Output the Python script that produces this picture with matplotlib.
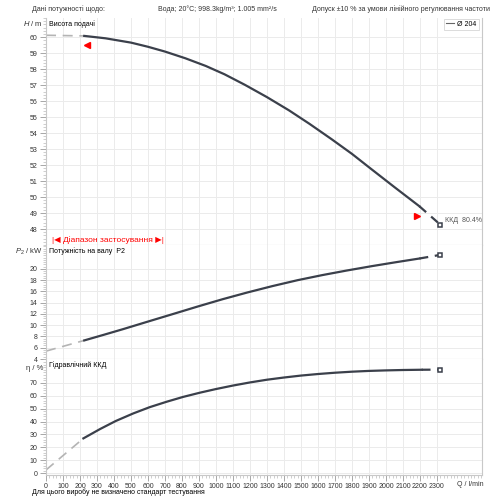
import matplotlib.pyplot as plt
from matplotlib.ticker import MultipleLocator

plt.rcParams['font.family'] = ['Liberation Sans', 'DejaVu Sans']
plt.rcParams['mathtext.fontset'] = 'custom'
plt.rcParams['mathtext.rm'] = 'Liberation Sans'
plt.rcParams['mathtext.it'] = 'Liberation Sans:italic'

# head curve, l/min -> m
q_head_lo = [0, 225]
head_lo = [60.12, 60.08]
q_head = [225, 350, 500, 600, 700, 820, 940, 1050, 1170, 1300, 1430, 1550, 1680, 1800, 1910, 2050, 2197]
head = [60.08, 59.93, 59.66, 59.40, 59.10, 58.68, 58.20, 57.68, 57.02, 56.25, 55.42, 54.58, 53.62,
        52.70, 51.78, 50.62, 49.42]
q_head_hi = [2197, 2320]
head_hi = [49.42, 48.27]

# shaft power P2, kW
q_pow_lo = [0, 225]
pow_lo = [5.4, 7.3]
q_pow = [225, 340, 453, 600, 746, 890, 1039, 1185, 1332, 1480, 1625, 1770, 1918, 2060, 2197]
power = [7.3, 8.3, 9.3, 10.65, 11.98, 13.3, 14.62, 15.82, 16.95, 18.0, 18.9, 19.72, 20.5, 21.2, 21.85]
q_pow_hi = [2197, 2320]
pow_hi = [21.85, 22.5]

# hydraulic efficiency, %
q_eff_lo = [0, 220]
eff_lo = [2.6, 27.0]
q_eff = [220, 318, 410, 514, 610, 710, 806, 906, 1000, 1100, 1200, 1300, 1400, 1500, 1600, 1700,
         1800, 1900, 2000, 2100, 2210]
eff = [27.0, 34.2, 40.4, 46.3, 51.1, 55.3, 59.0, 62.3, 65.1, 67.8, 70.2, 72.3, 74.0, 75.5, 76.7, 77.7,
       78.5, 79.1, 79.5, 79.8, 80.0]
q_eff_hi = [2210, 2320]
eff_hi = [80.0, 80.1]

range_lo = (244, 59.52)
range_hi = (2182, 48.83)

dark = '#3b404b'
light = '#b4b4b4'
grid_c = '#ebebeb'
txt_c = '#333333'
fs = 5.0

fig = plt.figure(figsize=(5, 5), dpi=100)
ax1 = fig.add_axes([0.092, 0.51, 0.872, 0.454])
ax2 = fig.add_axes([0.092, 0.282, 0.872, 0.228], sharex=ax1)
ax3 = fig.add_axes([0.092, 0.051, 0.872, 0.231], sharex=ax1)

for ax in (ax1, ax2, ax3):
    ax.set_xlim(0, 2565)
    ax.xaxis.set_major_locator(MultipleLocator(100))
    ax.xaxis.set_minor_locator(MultipleLocator(20))
    ax.grid(True, which='major', color=grid_c, lw=0.7)
    ax.set_axisbelow(True)
    for s in ax.spines.values():
        s.set_color('#c8c8c8')
        s.set_linewidth(0.8)
    ax.spines['top'].set_visible(False)
    ax.tick_params(axis='both', which='major', labelsize=fs, labelcolor=txt_c, color='#999999',
                   length=4, width=0.6, pad=2)
    ax.tick_params(axis='both', which='minor', color='#bbbbbb', length=2, width=0.5)

for ax in (ax1, ax2):
    ax.tick_params(axis='x', which='both', bottom=False, labelbottom=False)

# head
ax1.plot(q_head_lo, head_lo, color=light, lw=1.2, dashes=(6, 4))
ax1.plot(q_head, head, color=dark, lw=1.6)
ax1.plot(q_head_hi, head_hi, color=dark, lw=1.6, dashes=(4, 3))
ax1.plot(q_head_hi[-1], head_hi[-1], 's', ms=3.5, mfc='white', mec=dark, mew=1.1)
ax1.plot(*range_lo, marker='<', color='red', ms=4)
ax1.plot(*range_hi, marker='>', color='red', ms=4)
ax1.text(q_head_hi[-1] + 25, head_hi[-1] + 0.25, 'ККД  80.4%', fontsize=fs, color='#555555', va='center')
ax1.set_ylim(47.0, 61.2)
ax1.set_yticks(range(48, 61))
ax1.yaxis.set_minor_locator(MultipleLocator(0.2))
ax1.text(0.008, 0.99, 'Висота подачі', transform=ax1.transAxes, fontsize=fs, va='top')
ax1.text(0.013, 0.022, '|◀ Діапазон застосування ▶|', transform=ax1.transAxes,
         fontsize=6, color='red', va='center')
h_leg, = ax1.plot([], [], color='#666666', lw=0.8, label='Ø 204')
leg = ax1.legend(handles=[h_leg], loc='upper right', fontsize=fs, handlelength=1.2, handletextpad=0.4,
                 borderpad=0.3, frameon=True, fancybox=False, bbox_to_anchor=(1.0, 1.012))
leg.get_frame().set_edgecolor('#cccccc')
leg.get_frame().set_linewidth(0.6)

# power
ax2.plot(q_pow_lo, pow_lo, color=light, lw=1.2, dashes=(6, 4))
ax2.plot(q_pow, power, color=dark, lw=1.6)
ax2.plot(q_pow_hi, pow_hi, color=dark, lw=1.6, dashes=(4, 3))
ax2.plot(q_pow_hi[-1], pow_hi[-1], 's', ms=3.5, mfc='white', mec=dark, mew=1.1)
ax2.set_ylim(4, 24.25)
ax2.set_yticks(range(4, 21, 2))
ax2.yaxis.set_minor_locator(MultipleLocator(0.4))
ax2.text(0.008, 0.985, 'Потужність на валу  P2', transform=ax2.transAxes, fontsize=fs, va='top')

# efficiency
ax3.plot(q_eff_lo, eff_lo, color=light, lw=1.2, dashes=(6, 4))
ax3.plot(q_eff, eff, color=dark, lw=1.6)
ax3.plot(q_eff_hi, eff_hi, color=dark, lw=1.6, dashes=(4, 3))
ax3.plot(q_eff_hi[-1], eff_hi[-1], 's', ms=3.5, mfc='white', mec=dark, mew=1.1)
ax3.set_ylim(-0.9, 88.3)
ax3.set_yticks(range(0, 71, 10))
ax3.yaxis.set_minor_locator(MultipleLocator(2))
ax3.text(0.008, 0.985, 'Гідравлічний ККД', transform=ax3.transAxes, fontsize=fs, va='top')
ax3.set_xticks(range(0, 2301, 100))

# axis captions and header
fig.text(0.086, 0.954, r'$H$ / m', fontsize=5.5, ha='right', va='center', color=txt_c)
fig.text(0.086, 0.496, r'$P_2$ / kW', fontsize=5.5, ha='right', va='center', color=txt_c)
fig.text(0.086, 0.262, 'η / %', fontsize=5.5, ha='right', va='center', color=txt_c)
fig.text(0.94, 0.032, 'Q / l/min', fontsize=fs, ha='center', va='center', color=txt_c)
fig.text(0.064, 0.015, 'Для цього виробу не визначено стандарт тестування', fontsize=fs, va='center')
fig.text(0.064, 0.981, 'Дані потужності щодо:', fontsize=fs, va='center', color=txt_c)
fig.text(0.316, 0.981, 'Вода; 20°C; 998.3kg/m³; 1.005 mm²/s', fontsize=fs, va='center', color=txt_c)
fig.text(0.624, 0.981, 'Допуск ±10 % за умови лінійного регулювання частоти', fontsize=fs,
         va='center', color=txt_c)

fig.savefig('out.png', dpi=100)
